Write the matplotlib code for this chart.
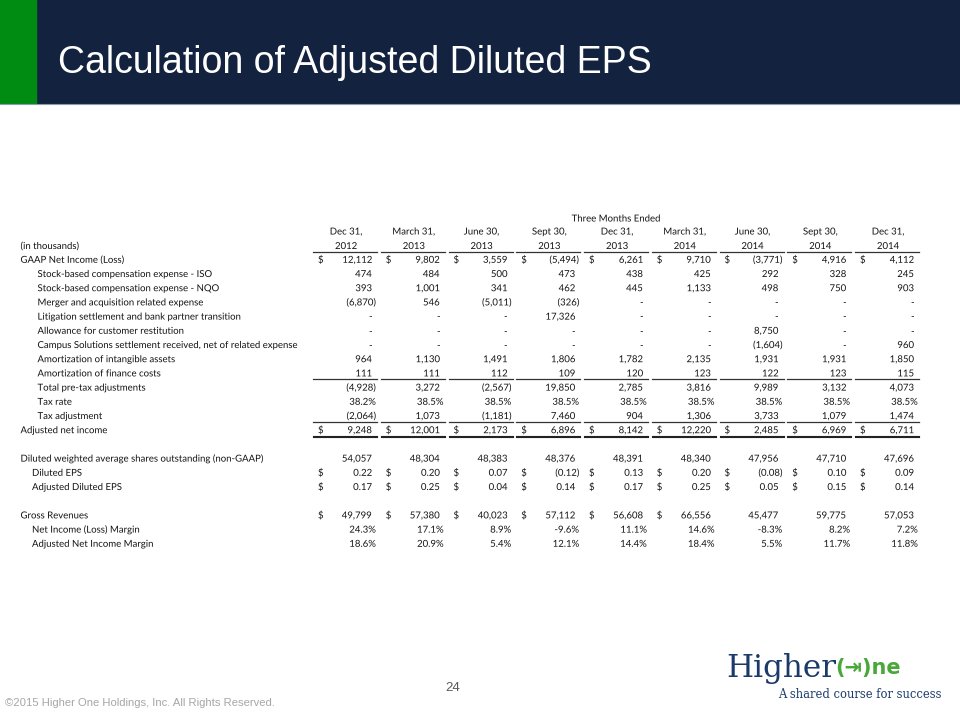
import matplotlib
matplotlib.use("Agg")
import matplotlib.pyplot as plt
import matplotlib.patheffects as pe
from matplotlib.patches import Rectangle

# ---- data ----
title = "Calculation of Adjusted Diluted EPS"
period_month = ["Dec 31,", "March 31,", "June 30,", "Sept 30,", "Dec 31,",
                "March 31,", "June 30,", "Sept 30,", "Dec 31,"]
period_year = ["2012", "2013", "2013", "2013", "2013", "2014", "2014", "2014", "2014"]

gaap_net_income = [12112, 9802, 3559, -5494, 6261, 9710, -3771, 4916, 4112]
sbc_iso = [474, 484, 500, 473, 438, 425, 292, 328, 245]
sbc_nqo = [393, 1001, 341, 462, 445, 1133, 498, 750, 903]
merger_exp = [-6870, 546, -5011, -326, 0, 0, 0, 0, 0]
litigation = [0, 0, 0, 17326, 0, 0, 0, 0, 0]
restitution = [0, 0, 0, 0, 0, 0, 8750, 0, 0]
campus_settlement = [0, 0, 0, 0, 0, 0, -1604, 0, 960]
amort_intangible = [964, 1130, 1491, 1806, 1782, 2135, 1931, 1931, 1850]
amort_finance = [111, 111, 112, 109, 120, 123, 122, 123, 115]
total_pretax_adj = [-4928, 3272, -2567, 19850, 2785, 3816, 9989, 3132, 4073]
tax_rate = [38.2, 38.5, 38.5, 38.5, 38.5, 38.5, 38.5, 38.5, 38.5]
tax_adjustment = [-2064, 1073, -1181, 7460, 904, 1306, 3733, 1079, 1474]
adj_net_income = [9248, 12001, 2173, 6896, 8142, 12220, 2485, 6969, 6711]
diluted_shares = [54057, 48304, 48383, 48376, 48391, 48340, 47956, 47710, 47696]
diluted_eps = [0.22, 0.20, 0.07, -0.12, 0.13, 0.20, -0.08, 0.10, 0.09]
adj_diluted_eps = [0.17, 0.25, 0.04, 0.14, 0.17, 0.25, 0.05, 0.15, 0.14]
gross_revenues = [49799, 57380, 40023, 57112, 56608, 66556, 45477, 59775, 57053]
ni_margin = [24.3, 17.1, 8.9, -9.6, 11.1, 14.6, -8.3, 8.2, 7.2]
adj_ni_margin = [18.6, 20.9, 5.4, 12.1, 14.4, 18.4, 5.5, 11.7, 11.8]

# (label, values, format, indent, dollar-columns, rule below)
rows = [
    ("GAAP Net Income (Loss)", gaap_net_income, "int", 0, 9, None),
    ("Stock-based compensation expense - ISO", sbc_iso, "int", 1, 0, None),
    ("Stock-based compensation expense - NQO", sbc_nqo, "int", 1, 0, None),
    ("Merger and acquisition related expense", merger_exp, "int", 1, 0, None),
    ("Litigation settlement and bank partner transition", litigation, "int", 1, 0, None),
    ("Allowance for customer restitution", restitution, "int", 1, 0, None),
    ("Campus Solutions settlement received, net of related expense", campus_settlement, "int", 1, 0, None),
    ("Amortization of intangible assets", amort_intangible, "int", 1, 0, None),
    ("Amortization of finance costs", amort_finance, "int", 1, 0, "single"),
    ("Total pre-tax adjustments", total_pretax_adj, "int", 1, 0, None),
    ("Tax rate", tax_rate, "pct", 1, 0, None),
    ("Tax adjustment", tax_adjustment, "int", 1, 0, "single"),
    ("Adjusted net income", adj_net_income, "int", 0, 9, "double"),
    None,
    ("Diluted weighted average shares outstanding (non-GAAP)", diluted_shares, "int", 0, 0, None),
    ("Diluted EPS", diluted_eps, "eps", 2, 9, None),
    ("Adjusted Diluted EPS", adj_diluted_eps, "eps", 2, 9, None),
    None,
    ("Gross Revenues", gross_revenues, "int", 0, 6, None),
    ("Net Income (Loss) Margin", ni_margin, "margin", 2, 0, None),
    ("Adjusted Net Income Margin", adj_ni_margin, "margin", 2, 0, None),
]


def fmt(v, kind):
    if kind in ("pct", "margin"):
        return f"{v:.1f}%", True
    if kind == "eps":
        return (f"({abs(v):.2f})", True) if v < 0 else (f"{v:.2f}", False)
    if v == 0:
        return "-", False
    return (f"({abs(v):,})", True) if v < 0 else (f"{v:,}", False)


font = ["Lato", "DejaVu Sans"]
tcol = "#141414"
fs = 6.9
base = 3.5  # offset from row centre to text baseline, px
as_path = [pe.Normal()]  # draw glyphs as paths so baselines line up exactly

fig = plt.figure(figsize=(9.6, 7.2), dpi=100)
ax = fig.add_axes([0, 0, 1, 1])
ax.set_xlim(0, 960)
ax.set_ylim(720, 0)
ax.axis("off")


def cell(x, y, s, ha):
    # a lone dash is too thin as a path and can vanish, keep it as hinted text
    effects = [] if s == "-" else as_path
    ax.text(x, y + base, s, fontsize=fs, family=font, color=tcol, ha=ha,
            va="baseline", path_effects=effects)


# header band
ax.add_patch(Rectangle((0, 0), 960, 103, color="#13233f", zorder=0))
ax.add_patch(Rectangle((0, 0), 36, 103, color="#008c12", zorder=1))
ax.plot([0, 960], [103.5, 103.5], color="#8a9bb0", lw=0.8)
ax.text(58, 63, title, color="white", fontsize=27, family="Liberation Sans",
        va="center", ha="left")

# table header
col_w = 67.75
x_right = [372 + col_w * i for i in range(len(period_month))]
cell(616, 218, "Three Months Ended", "center")
cell(20.5, 245.5, "(in thousands)", "left")
for xr, m, y in zip(x_right, period_month, period_year):
    cell(xr - 26, 231, m, "center")
    cell(xr - 26, 245.5, y, "center")
    ax.plot([xr - 59, xr + 5], [252, 252], color="#333333", lw=0.9)

indent_x = [20.5, 37.5, 32]
y0, dy = 259.3, 14.2
for i, row in enumerate(rows):
    if row is None:
        continue
    label, vals, kind, lvl, ndollar, rule = row
    y = y0 + dy * i
    cell(indent_x[lvl], y, label, "left")
    for j, (xr, v) in enumerate(zip(x_right, vals)):
        s, hang = fmt(v, kind)
        cell(xr + (3.8 if hang else 0), y, s, "right")
        if j < ndollar:
            cell(xr - 54, y, "$", "left")
        if rule == "single":
            ax.plot([xr - 59, xr + 5], [y + 6.5, y + 6.5], color="#333333", lw=0.9)
        elif rule == "double":
            ax.plot([xr - 59, xr + 5], [y + 6, y + 6], color="#222222", lw=0.8)
            ax.plot([xr - 59, xr + 5], [y + 7.6, y + 7.6], color="#222222", lw=0.8)

# footer
ax.text(453, 688, "24", fontsize=9.5, family="Liberation Sans", color="#595959",
        ha="center", va="center")
ax.text(5, 703, "\u00a92015 Higher One Holdings, Inc. All Rights Reserved.", fontsize=8.1,
        family="Liberation Sans", color="#a6a6a6", ha="left", va="center")

# logo
ax.text(726, 668, "Higher", fontsize=22.3, family="DejaVu Serif", color="#1b3a6b",
        ha="left", va="center")
ax.text(835, 668, "(\u21e5)ne", fontsize=15, family=["DejaVu Sans"], weight="bold",
        color="#4aa83a", ha="left", va="center")
ax.text(778, 695, "A shared course for success", fontsize=8.3, family="DejaVu Serif",
        color="#1b3a6b", ha="left", va="center")

fig.savefig("out.png", dpi=100)
